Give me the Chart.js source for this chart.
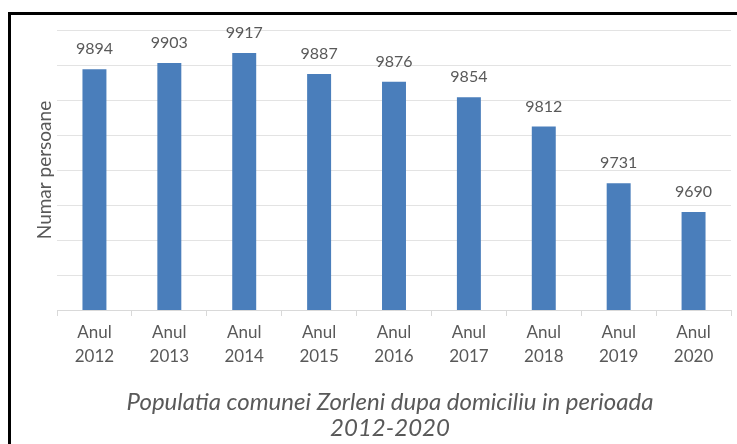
<!DOCTYPE html>
<html>
<head>
<meta charset="utf-8">
<script src="https://cdn.jsdelivr.net/npm/chart.js"></script>
<style>
    html, body { margin: 0; padding: 0; background: #fff; }
    #wrap { position: relative; width: 737px; height: 444px; overflow: hidden; }
    #frame { position: absolute; left: 8px; top: 12px; width: 800px; height: 500px;
             border-left: 3px solid #000; border-top: 3px solid #000; }
    canvas { position: absolute; left: 0; top: 0; }
</style>
</head>
<body>
<div id="wrap">
    <div id="frame"></div>
    <canvas id="popChart" width="737" height="444"></canvas>
</div>
<script>
const years = ["2012", "2013", "2014", "2015", "2016", "2017", "2018", "2019", "2020"];
const population = [9894, 9903, 9917, 9887, 9876, 9854, 9812, 9731, 9690];
const yMin = 9550;
const yMax = 9950;
const yStep = 50;
const captionLines = ["Populatia comunei Zorleni dupa domiciliu in perioada", "2012-2020"];

const labels = years.map(y => ["Anul", y]);
const grey = "#595959";
const fontName = "Lato, 'Open Sans', sans-serif";

// value labels above each bar
const valueLabels = {
    id: "valueLabels",
    afterDatasetsDraw(chart) {
        const ctx = chart.ctx;
        const meta = chart.getDatasetMeta(0);
        ctx.save();
        ctx.fillStyle = grey;
        ctx.font = "16px " + fontName;
        ctx.textAlign = "center";
        ctx.textBaseline = "middle";
        meta.data.forEach((bar, i) => {
            ctx.fillText(population[i], bar.x, bar.y - 20);
        });
        ctx.restore();
    }
};

// italic caption under the axis, a bit right of the canvas centre like the original
const caption = {
    id: "caption",
    afterDraw(chart) {
        const ctx = chart.ctx;
        const area = chart.chartArea;
        const cx = (area.left + area.right) / 2 - 4;
        ctx.save();
        ctx.fillStyle = grey;
        ctx.font = "italic 24px " + fontName;
        ctx.textAlign = "center";
        ctx.textBaseline = "middle";
        captionLines.forEach((line, i) => {
            ctx.fillText(line, cx, area.bottom + 92 + i * 26);
        });
        ctx.restore();
    }
};

new Chart(document.getElementById("popChart"), {
    type: "bar",
    data: {
        labels: labels,
        datasets: [{
            label: "Numar persoane",
            data: population,
            backgroundColor: "#4a7ebb",
            borderWidth: 0,
            barPercentage: 0.32,
            categoryPercentage: 1
        }]
    },
    options: {
        responsive: false,
        animation: false,
        layout: { padding: { top: 30, left: 18, right: 6, bottom: 54 } },
        plugins: {
            legend: { display: false },
            tooltip: { enabled: false }
        },
        scales: {
            x: {
                grid: {
                    offset: true,
                    drawOnChartArea: false,
                    color: "#d9d9d9",
                    tickLength: 6
                },
                border: { color: "#d9d9d9" },
                ticks: {
                    color: grey,
                    maxRotation: 0,
                    padding: 5,
                    font: { family: fontName, size: 17, lineHeight: 1.4 }
                },
                afterFit(scale) { scale.height = 80; }
            },
            y: {
                min: yMin,
                max: yMax,
                ticks: { display: false, stepSize: yStep },
                grid: { color: "#e3e3e3", drawTicks: false },
                border: { display: false },
                title: {
                    display: true,
                    text: "Numar persoane",
                    color: grey,
                    font: { family: fontName, size: 19 },
                    padding: { top: 15, bottom: 0 }
                },
                afterFit(scale) { scale.width = 39; }
            }
        }
    },
    plugins: [valueLabels, caption]
});
</script>
</body>
</html>
